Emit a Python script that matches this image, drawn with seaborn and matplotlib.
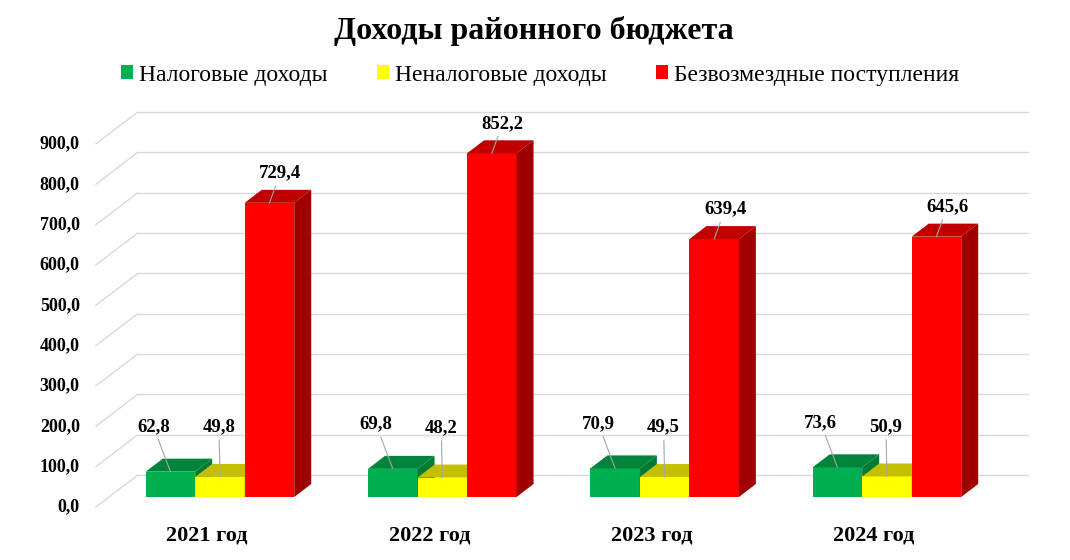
"""
Доходы районного бюджета - pseudo 3D clustered bar chart
"""

import matplotlib
matplotlib.use('Agg')
import matplotlib.pyplot as plt
import matplotlib.transforms as mtransforms
from matplotlib.patches import Polygon, Patch
from matplotlib.lines import Line2D
import seaborn as sns
import pandas as pd

# Data
years = ['2021 год', '2022 год', '2023 год', '2024 год']
series = ['Налоговые доходы', 'Неналоговые доходы', 'Безвозмездные поступления']
tax = [62.8, 69.8, 70.9, 73.6]
non_tax = [49.8, 48.2, 49.5, 50.9]
grants = [729.4, 852.2, 639.4, 645.6]
y_ticks = [0, 100, 200, 300, 400, 500, 600, 700, 800, 900]

# Colours: front, top, side
front_colors = ['#00B050', '#FFFF00', '#FF0000']
top_colors = ['#00843C', '#C4C000', '#C00000']
side_colors = ['#007A35', '#A8A500', '#A00000']
# label offsets (px right, px down) from bar top centre
label_offsets = [(-17, -45), (-1, -50), (11, -30)]

sns.set_style('white')
plt.rcParams['font.family'] = ['Liberation Serif', 'DejaVu Serif']
plt.rcParams['text.color'] = 'black'

df = pd.DataFrame({
    'year': years * 3,
    'kind': [series[0]] * 4 + [series[1]] * 4 + [series[2]] * 4,
    'value': tax + non_tax + grants,
})

W, H, DPI = 1070, 560, 100
fig = plt.figure(figsize=(W / DPI, H / DPI), dpi=DPI)
ax = fig.add_axes([108.8 / W, (H - 497) / H, 889.3 / W, 403.3 / H])

sns.barplot(data=df, x='year', y='value', hue='kind', order=years,
            hue_order=series, palette=front_colors, saturation=1,
            width=0.668, gap=0, legend=False, ax=ax, linewidth=0)
ax.set_xlim(-0.5, 3.5)
ax.set_ylim(0, 1000)
ax.axis('off')


def off(dx, dy):
    """data transform shifted by dx px right, dy px down"""
    return ax.transData + mtransforms.ScaledTranslation(dx / DPI, -dy / DPI, fig.dpi_scale_trans)


ident = mtransforms.IdentityTransform()
grid_kw = dict(color='#D9D9D9', lw=1.0, transform=ident, zorder=0.1, clip_on=False)
x0, x1 = ax.get_xlim()

# Walls: back gridlines + diagonals to the front plane, tick labels
for v in y_ticks:
    lx, ly = ax.transData.transform((x0, v))
    rx, ry = ax.transData.transform((x1, v))
    ax.add_artist(Line2D([lx + 29, rx + 30], [ly + 22, ry + 22], **grid_kw))
    ax.add_artist(Line2D([lx - 13, lx + 29], [ly - 10, ly + 22], **grid_kw))
    ax.text(x0, v, f'{v:.1f}'.replace('.', ','), transform=off(-29, 10),
            ha='right', va='center', fontsize=13, fontweight='bold')

# Category labels on the front plane
for i, yr in enumerate(years):
    ax.text(i, 0, yr, transform=off(-13, 39), ha='center', va='center',
            fontsize=16, fontweight='bold')

# 3D faces for every bar, drawn left to right
bars = sorted(ax.patches, key=lambda p: p.get_x())
front_hex = [matplotlib.colors.to_hex(c) for c in front_colors]
dx, dy = 17, 13
for k, p in enumerate(bars):
    s = front_hex.index(matplotlib.colors.to_hex(p.get_facecolor()))
    z = 2 + k
    p.set_zorder(z)
    (bx, by) = ax.transData.transform((p.get_x(), 0))
    (tx, ty) = ax.transData.transform((p.get_x() + p.get_width(), p.get_height()))
    top = Polygon([(bx, ty), (tx, ty), (tx + dx, ty + dy), (bx + dx, ty + dy)],
                  closed=True, facecolor=top_colors[s], edgecolor='none',
                  transform=ident, zorder=z + 0.3, clip_on=False)
    side = Polygon([(tx, by), (tx, ty), (tx + dx, ty + dy), (tx + dx, by + dy)],
                   closed=True, facecolor=side_colors[s], edgecolor='none',
                   transform=ident, zorder=z + 0.6, clip_on=False)
    ax.add_artist(top)
    ax.add_artist(side)
    ox, oy = label_offsets[s]
    ax.annotate(f'{p.get_height():.1f}'.replace('.', ','),
                xy=(p.get_x() + p.get_width() / 2, p.get_height()),
                xytext=(ox * 0.72, -oy * 0.72), textcoords='offset points',
                ha='center', va='center', fontsize=13.5, fontweight='bold',
                zorder=50, annotation_clip=False,
                arrowprops=dict(arrowstyle='-', color='#A6A6A6', lw=0.8,
                                shrinkA=1, shrinkB=0))

# Title and legend
fig.text(534 / W, 1 - 31 / H, 'Доходы районного бюджета', ha='center',
         va='center', fontsize=23, fontweight='bold')
handles = [Patch(facecolor=c, edgecolor='none') for c in front_colors]
fig.legend(handles, series, loc='center', bbox_to_anchor=(540 / W, 1 - 75 / H),
           ncol=3, frameon=False, fontsize=17, handlelength=0.5,
           handleheight=0.5, handletextpad=0.25, columnspacing=2.1)

plt.savefig('out.png', dpi=DPI)
plt.close()
